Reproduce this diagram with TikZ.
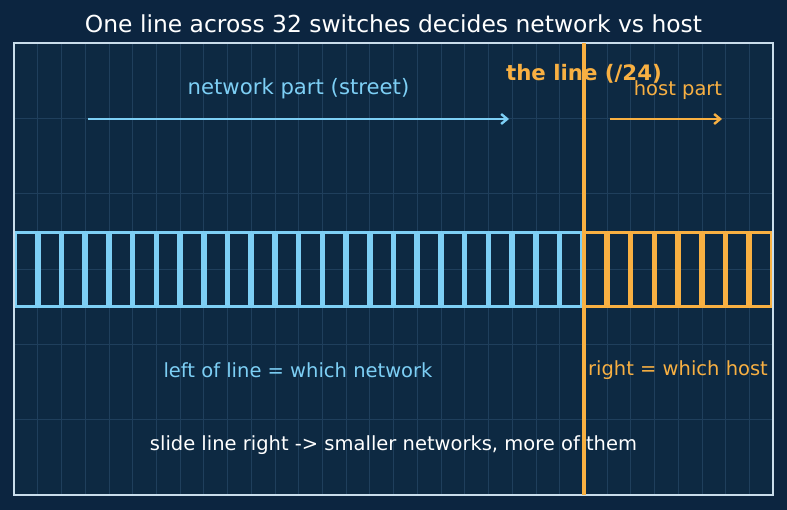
\documentclass[tikz,border=0pt]{standalone}
\usepackage{fontspec}
\setmainfont{DejaVu Sans}
\usetikzlibrary{arrows.meta}
\definecolor{bgc}{HTML}{0C2540}
\definecolor{panel}{HTML}{0D2942}
\definecolor{framec}{HTML}{C9DDEB}
\definecolor{gridc}{HTML}{1F3F5C}
\definecolor{netc}{HTML}{7DCFF5}
\definecolor{hostc}{HTML}{F8B042}
\tikzset{
  switchbox/.style={draw, line width=2.8pt},
  gridline/.style={draw=gridc, line width=0.6pt},
  lbl/.style={font=\fontsize{19.5}{22}\selectfont, inner sep=0pt, anchor=center},
  arr/.style={line width=2.4pt, -{Straight Barb[length=6pt,width=10pt]}}
}
\begin{document}
\begin{tikzpicture}[x=1pt,y=-1pt]
\useasboundingbox (0,0) rectangle (787,510);
\fill[bgc] (0,0) rectangle (787,510);
\fill[panel] (14,43) rectangle (773,495);
% grid
\foreach \i in {1,...,31} {
  \draw[gridline] ({14+\i*23.71875},43) -- ({14+\i*23.71875},495);
}
\foreach \j in {1,...,5} {
  \draw[gridline] (14,{43+\j*75.3333}) -- (773,{43+\j*75.3333});
}
% switches
\foreach \i in {0,...,23} {
  \draw[switchbox, netc] ({14+\i*23.71875+1.4},232.5) rectangle ({14+(\i+1)*23.71875-1.4},306.5);
}
\foreach \i in {24,...,31} {
  \draw[switchbox, hostc] ({14+\i*23.71875+1.4},232.5) rectangle ({14+(\i+1)*23.71875-1.4},306.5);
}
\draw[framec, line width=1.5pt] (14,43) rectangle (773,495);
% the line
\coordinate (ltop) at (584,43);
\coordinate (lbot) at (584,495);
\draw[hostc, line width=4.5pt] (ltop) -- (lbot);
% title
\node[lbl, text=white, font=\fontsize{23.4}{26}\selectfont] (title) at (393.5,24) {One line across 32 switches decides network vs host};
% labels
\node[lbl, text=netc, font=\fontsize{21.2}{24}\selectfont] (netlbl) at (298.5,89) {network part (street)};
\coordinate (na) at (88,119);
\coordinate (nb) at (509,119);
\draw[arr, netc] (na) -- (nb);
\node[lbl, text=hostc, font=\fontsize{21.3}{24}\selectfont\bfseries] (linelbl) at (584,74) {the line (/24)};
\node[lbl, text=hostc] (hostlbl) at (678,90) {host part};
\coordinate (ha) at (610,119);
\coordinate (hb) at (722,119);
\draw[arr, hostc] (ha) -- (hb);
\node[lbl, text=netc] (leftlbl) at (298,370) {left of line = which network};
\node[lbl, text=hostc] (rightlbl) at (678,370) {right = which host};
\node[lbl, text=white] (slide) at (393.5,445) {slide line right -> smaller networks, more of them};
\end{tikzpicture}
\end{document}
